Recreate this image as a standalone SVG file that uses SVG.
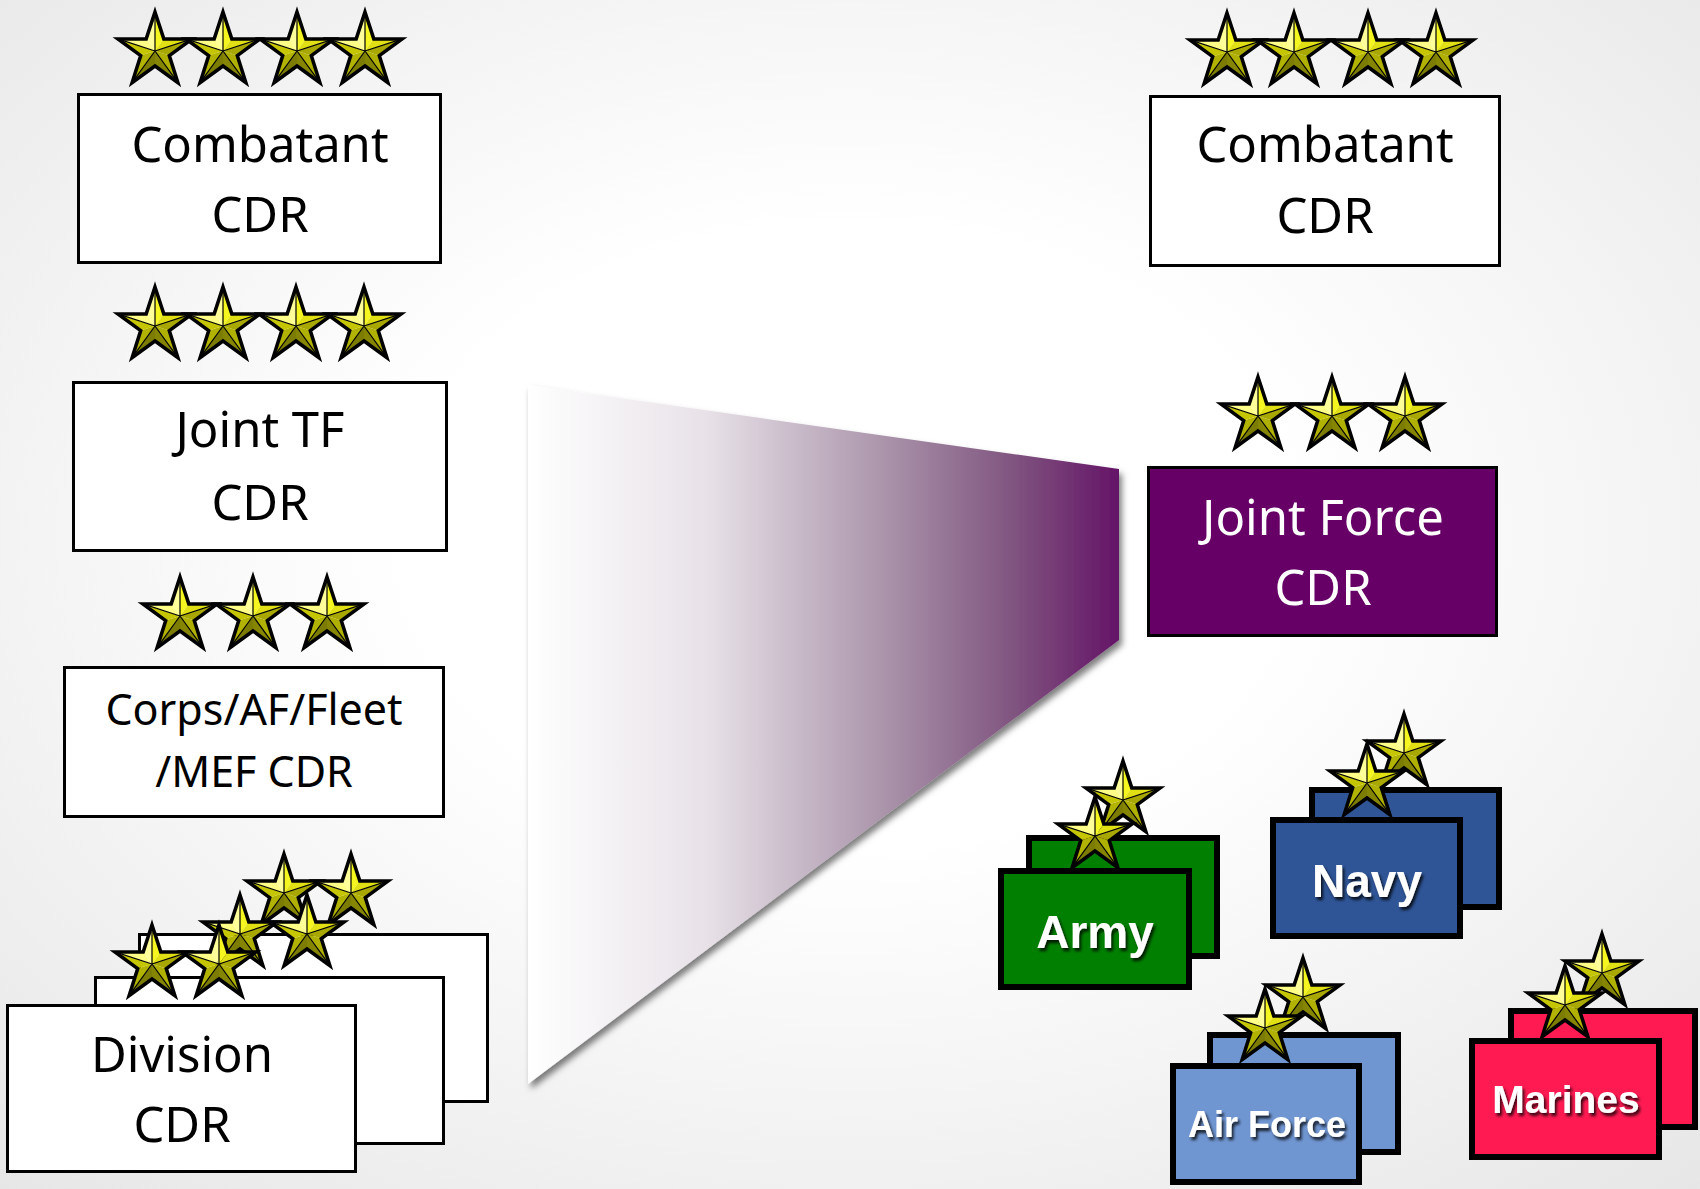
<svg xmlns="http://www.w3.org/2000/svg" width="1700" height="1189" viewBox="0 0 1700 1189">
<style>
.box{fill:#ffffff;stroke:#000000;stroke-width:3}
.jf{fill:#660066;stroke:#000000;stroke-width:3}
.lbl{font-family:"Noto Sans","Open Sans","Liberation Sans",sans-serif;font-size:49px;text-anchor:middle;fill:#000000}
.lbl-sm{font-size:43px}
.lbl-w{fill:#ffffff}
.svc{stroke:#000000;stroke-width:6}
.svc-t{font-family:"Liberation Sans",Arial,sans-serif;font-weight:bold;text-anchor:middle;fill:#ffffff}
</style>
<defs>
<radialGradient id="bg" cx="50%" cy="45%" r="75%">
<stop offset="0.35" stop-color="#ffffff"/>
<stop offset="1" stop-color="#e6e6e6"/>
</radialGradient>
<linearGradient id="wedge" x1="0" y1="0" x2="1" y2="0">
<stop offset="0" stop-color="#ffffff"/>
<stop offset="0.3" stop-color="#e8e2e8"/>
<stop offset="0.6" stop-color="#ab95ab"/>
<stop offset="0.82" stop-color="#805580"/>
<stop offset="1" stop-color="#641466"/>
</linearGradient>
<filter id="shadow" x="-10%" y="-10%" width="120%" height="120%">
<feDropShadow dx="3" dy="5" stdDeviation="3" flood-color="#000000" flood-opacity="0.5"/>
</filter>
<filter id="tshadow" x="-20%" y="-30%" width="140%" height="160%">
<feDropShadow dx="2" dy="3" stdDeviation="1.8" flood-color="#000000" flood-opacity="0.8"/>
</filter>
<g id="star">
<polygon points="0,0 0,-39 -8.8,-12.1" fill="#ffff99"/>
<polygon points="0,0 0,-39 8.8,-12.1" fill="#f5f520"/>
<polygon points="0,0 37.1,-12.1 8.8,-12.1" fill="#e0e015"/>
<polygon points="0,0 37.1,-12.1 14.3,4.6" fill="#a8a800"/>
<polygon points="0,0 22.9,31.6 14.3,4.6" fill="#b0b000"/>
<polygon points="0,0 22.9,31.6 0,15" fill="#858500"/>
<polygon points="0,0 -22.9,31.6 0,15" fill="#7c7c00"/>
<polygon points="0,0 -22.9,31.6 -14.3,4.6" fill="#b2b200"/>
<polygon points="0,0 -37.1,-12.1 -14.3,4.6" fill="#c6c600"/>
<polygon points="0,0 -37.1,-12.1 -8.8,-12.1" fill="#ffff88"/>
<path d="M0,0 L0,-39 M0,0 L37.1,-12.1 M0,0 L22.9,31.6 M0,0 L-22.9,31.6 M0,0 L-37.1,-12.1" stroke="#000000" stroke-width="1.2" fill="none"/>
<polygon points="0,-39 8.8,-12.1 37.1,-12.1 14.3,4.6 22.9,31.6 0,15 -22.9,31.6 -14.3,4.6 -37.1,-12.1 -8.8,-12.1" fill="none" stroke="#000000" stroke-width="3.5" stroke-linejoin="miter"/>
</g>
</defs>

<rect x="0" y="0" width="1700" height="1189" fill="url(#bg)"/>

<g id="connectors">
<polygon id="wedge-shape" points="528,385 1119,469 1119,640 528,1084" fill="url(#wedge)" filter="url(#shadow)"/>
</g>

<g id="node-combatant-left">
<use href="#star" x="155" y="51"/>
<use href="#star" x="223" y="51"/>
<use href="#star" x="297" y="51"/>
<use href="#star" x="365" y="51"/>
<rect class="box" x="78.5" y="94.5" width="362" height="168"/>
<text class="lbl" x="260" y="162">Combatant</text>
<text class="lbl" x="260" y="232">CDR</text>
</g>

<g id="node-joint-tf">
<use href="#star" x="155" y="326"/>
<use href="#star" x="223" y="326"/>
<use href="#star" x="296" y="326"/>
<use href="#star" x="364" y="326"/>
<rect class="box" x="73.5" y="382.5" width="373" height="168"/>
<text class="lbl" x="260" y="447">Joint TF</text>
<text class="lbl" x="260" y="520">CDR</text>
</g>

<g id="node-corps">
<use href="#star" x="180" y="616"/>
<use href="#star" x="253" y="616"/>
<use href="#star" x="327" y="616"/>
<rect class="box" x="64.5" y="667.5" width="379" height="149"/>
<text class="lbl lbl-sm" x="254" y="725">Corps/AF/Fleet</text>
<text class="lbl lbl-sm" x="254" y="787">/MEF CDR</text>
</g>

<g id="node-division">
<g id="division-back">
<rect class="box" x="139.5" y="934.5" width="348" height="167"/>
<use href="#star" x="284" y="893"/>
<use href="#star" x="351" y="893"/>
</g>
<g id="division-middle">
<rect class="box" x="95.5" y="977.5" width="348" height="166"/>
<use href="#star" x="240" y="934"/>
<use href="#star" x="307" y="934"/>
</g>
<g id="division-front">
<rect class="box" x="7.5" y="1005.5" width="348" height="166"/>
<text class="lbl" x="182" y="1072">Division</text>
<text class="lbl" x="182" y="1142">CDR</text>
<use href="#star" x="152" y="964"/>
<use href="#star" x="219" y="964"/>
</g>
</g>

<g id="node-combatant-right">
<use href="#star" x="1227" y="52"/>
<use href="#star" x="1294" y="52"/>
<use href="#star" x="1368" y="52"/>
<use href="#star" x="1436" y="52"/>
<rect class="box" x="1150.5" y="96.5" width="349" height="169"/>
<text class="lbl" x="1325" y="162">Combatant</text>
<text class="lbl" x="1325" y="233">CDR</text>
</g>

<g id="node-joint-force">
<use href="#star" x="1258" y="416"/>
<use href="#star" x="1332" y="416"/>
<use href="#star" x="1405" y="416"/>
<rect class="jf" x="1148.5" y="467.5" width="348" height="168"/>
<text class="lbl lbl-w" x="1323" y="535">Joint Force</text>
<text class="lbl lbl-w" x="1323" y="605">CDR</text>
</g>

<g id="node-army">
<rect class="svc" fill="#007f00" x="1029" y="838" width="188" height="118"/>
<use href="#star" x="1123" y="800"/>
<use href="#star" x="1095" y="836"/>
<rect class="svc" fill="#007f00" x="1001" y="871" width="188" height="116"/>
<text class="svc-t" x="1095" y="948" font-size="46" filter="url(#tshadow)">Army</text>
</g>

<g id="node-navy">
<rect class="svc" fill="#2f5597" x="1312" y="790" width="187" height="117"/>
<use href="#star" x="1404" y="753"/>
<use href="#star" x="1367" y="783"/>
<rect class="svc" fill="#2f5597" x="1273" y="820" width="187" height="116"/>
<text class="svc-t" x="1367" y="897" font-size="46" filter="url(#tshadow)">Navy</text>
</g>

<g id="node-air-force">
<rect class="svc" fill="#7096d2" x="1210" y="1035" width="188" height="117"/>
<use href="#star" x="1303" y="997"/>
<use href="#star" x="1265" y="1028"/>
<rect class="svc" fill="#7096d2" x="1173" y="1066" width="186" height="116"/>
<text class="svc-t" x="1267" y="1137" font-size="36" filter="url(#tshadow)">Air Force</text>
</g>

<g id="node-marines">
<rect class="svc" fill="#ff1a52" x="1511" y="1011" width="184" height="116"/>
<use href="#star" x="1602" y="973"/>
<use href="#star" x="1565" y="1005"/>
<rect class="svc" fill="#ff1a52" x="1472" y="1041" width="187" height="116"/>
<text class="svc-t" x="1566" y="1113" font-size="39" filter="url(#tshadow)">Marines</text>
</g>
</svg>
